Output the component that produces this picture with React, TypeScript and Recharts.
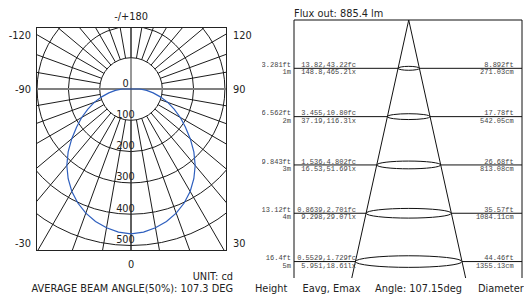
import React from 'react';
import {
  RadarChart,
  Radar,
  PolarGrid,
  PolarAngleAxis,
  PolarRadiusAxis,
  ComposedChart,
  XAxis,
  YAxis,
  ReferenceLine,
  ReferenceArea,
} from 'recharts';

// ---------- Polar luminous intensity (cd) ----------
const gammaDeg = [
  0, 5, 10, 15, 20, 25, 30, 35, 40, 45, 50, 55, 60, 65, 70, 75, 80, 85,
  90, 95, 100, 105, 110, 115, 120, 125, 130, 135, 140, 145, 150, 155, 160, 165, 170, 175,
  180, 185, 190, 195, 200, 205, 210, 215, 220, 225, 230, 235, 240, 245, 250, 255, 260, 265,
  270, 275, 280, 285, 290, 295, 300, 305, 310, 315, 320, 325, 330, 335, 340, 345, 350, 355,
];
const intensityCd = [
  463, 459, 450, 438, 422, 402, 378, 350, 319, 284, 247, 212, 182, 152, 125, 97, 72, 50,
  28, 0, 0, 0, 0, 0, 0, 0, 0, 0, 0, 0, 0, 0, 0, 0, 0, 0,
  0, 0, 0, 0, 0, 0, 0, 0, 0, 0, 0, 0, 0, 0, 0, 0, 0, 0,
  28, 50, 72, 97, 125, 152, 182, 212, 247, 284, 319, 350, 378, 402, 422, 438, 450, 459,
];
const polarData = gammaDeg.map((g, i) => ({ g, cd: intensityCd[i] }));

// ---------- Cone table ----------
const heightsM = [1, 2, 3, 4, 5];
const heightsFt = ['3.281', '6.562', '9.843', '13.12', '16.4'];
const eavgFc = ['13.82', '3.455', '1.536', '0.8639', '0.5529'];
const emaxFc = ['43.22', '10.80', '4.802', '2.701', '1.729'];
const eavgLx = ['148.8', '37.19', '16.53', '9.298', '5.951'];
const emaxLx = ['465.2', '116.3', '51.69', '29.07', '18.61'];
const diamFt = ['8.892', '17.78', '26.68', '35.57', '44.46'];
const diamCm = ['271.03', '542.05', '813.08', '1084.11', '1355.13'];
const coneData = heightsM.map((m) => ({ x: 0, m }));

// ---------- styles ----------
const SANS = '"DejaVu Sans", Verdana, sans-serif';
const MONO = '"Liberation Mono", "DejaVu Sans Mono", monospace';
const INK = '#222';
const R_UNIT = 31.3; // px per 100 cd
const OUTER_R = R_UNIT * 6;
const spokeAngles = Array.from({ length: 36 }, (_, i) => i * 10).filter((a) => a % 180 !== 0);

const CONE_SLOPE = 0.2207;
const X_MIN = -2.375;
const X_MAX = 2.345;
const Y_MAX = 5.34;

const RadiusTick = (props: any) => {
  const { x, y, payload } = props;
  if (payload.value > 500) return <g />;
  return (
    <text x={x - 5.5} y={y - 2.5} textAnchor="middle" fontFamily={SANS} fontSize={9.8} fill={INK}>
      {payload.value}
    </text>
  );
};

const EllipseShape = (props: any) => {
  const { x, y, width, height } = props;
  const rx = width / 2;
  return (
    <ellipse
      cx={x + rx}
      cy={y + height / 2}
      rx={rx}
      ry={1 + 0.09 * rx}
      fill="none"
      stroke="#111"
      strokeWidth={1}
    />
  );
};

const makeLevelLabel = (i: number) => (props: any) => {
  const vb = props.viewBox || { x: 0, y: 0, width: 0 };
  const left = vb.x;
  const right = vb.x + vb.width;
  const y = vb.y;
  const c = { fontFamily: MONO, fontSize: 7, fill: '#444' };
  return (
    <g>
      <text x={left - 3} y={y - 1.3} textAnchor="end" {...c}>{heightsFt[i]}ft</text>
      <text x={left - 3} y={y + 6} textAnchor="end" {...c}>{heightsM[i]}m</text>
      <text x={left + 62} y={y - 1.3} textAnchor="end" {...c}>{eavgFc[i]},{emaxFc[i]}fc</text>
      <text x={left + 62} y={y + 6} textAnchor="end" {...c}>{eavgLx[i]},{emaxLx[i]}lx</text>
      <text x={right - 8.3} y={y - 1.3} textAnchor="end" {...c}>{diamFt[i]}ft</text>
      <text x={right - 8.3} y={y + 6} textAnchor="end" {...c}>{diamCm[i]}cm</text>
    </g>
  );
};

const polarCommon = {
  width: 189,
  height: 222,
  cx: 94,
  cy: 61,
  outerRadius: OUTER_R,
  startAngle: -90,
  endAngle: -450,
  margin: { top: 0, right: 0, bottom: 0, left: 0 },
  data: polarData,
};

export default function App() {
  const txt = { fontFamily: SANS, fontSize: 9.8, fill: INK };
  return (
    <div style={{ position: 'absolute', left: 0, top: 0, width: 524, height: 295, background: '#fff', overflow: 'hidden' }}>
      {/* Polar diagram */}
      <div style={{ position: 'absolute', left: 37, top: 28, width: 189, height: 222, overflow: 'hidden' }}>
        <div style={{ position: 'absolute', left: 0, top: 0 }}>
          <RadarChart {...polarCommon} innerRadius={R_UNIT}>
            <PolarAngleAxis dataKey="g" type="number" domain={[0, 360]} tick={false} axisLine={false} tickLine={false} />
            <PolarRadiusAxis type="number" domain={[100, 600]} tickCount={6} allowDataOverflow tick={false} axisLine={false} />
            <PolarGrid gridType="circle" polarAngles={spokeAngles} stroke="#1c1c1c" strokeWidth={1} />
          </RadarChart>
        </div>
        <div style={{ position: 'absolute', left: 0, top: 0 }}>
          <RadarChart {...polarCommon} innerRadius={0}>
            <PolarGrid gridType="circle" polarAngles={[0, 180]} polarRadius={[0]} stroke="#808080" strokeWidth={2} />
            <PolarGrid gridType="circle" polarAngles={[90, 270]} polarRadius={[0]} stroke="#333" strokeWidth={1} />
            <PolarAngleAxis dataKey="g" type="number" domain={[0, 360]} tick={false} axisLine={false} tickLine={false} />
            <PolarRadiusAxis type="number" domain={[0, 600]} tickCount={7} angle={-90} axisLine={false} tick={RadiusTick} />
            <Radar dataKey="cd" stroke="#2e5fbe" strokeWidth={1.2} fill="none" fillOpacity={0} dot={false} isAnimationActive={false} />
          </RadarChart>
        </div>
      </div>
      <div style={{ position: 'absolute', left: 36, top: 27, width: 191, height: 224, border: '1px solid #222', boxSizing: 'border-box', pointerEvents: 'none' }} />

      {/* Cone diagram */}
      <div style={{ position: 'absolute', left: 262, top: 0 }}>
        <ComposedChart width={262} height={295} margin={{ top: 20, right: 2, bottom: 17, left: 32 }} data={coneData}>
          <XAxis type="number" dataKey="x" domain={[X_MIN, X_MAX]} allowDataOverflow hide />
          <YAxis type="number" dataKey="m" domain={[0, Y_MAX]} allowDataOverflow reversed hide />
          <ReferenceLine y={0} stroke="#111" strokeWidth={1.2} />
          <ReferenceLine x={X_MIN} stroke="#111" strokeWidth={1} />
          <ReferenceLine x={X_MAX} stroke="#111" strokeWidth={1} />
          {heightsM.map((m) => (
            <ReferenceLine key={'l' + m} segment={[{ x: X_MIN, y: m }, { x: -CONE_SLOPE * m, y: m }]} stroke="#111" strokeWidth={1} />
          ))}
          {heightsM.map((m) => (
            <ReferenceLine key={'r' + m} segment={[{ x: CONE_SLOPE * m, y: m }, { x: X_MAX, y: m }]} stroke="#111" strokeWidth={1} />
          ))}
          {heightsM.map((m) => (
            <ReferenceArea
              key={'e' + m}
              x1={-CONE_SLOPE * m}
              x2={CONE_SLOPE * m}
              y1={m - 0.05}
              y2={m + 0.05}
              shape={EllipseShape}
              ifOverflow="visible"
            />
          ))}
          <ReferenceLine segment={[{ x: 0, y: 0 }, { x: -CONE_SLOPE * Y_MAX, y: Y_MAX }]} stroke="#111" strokeWidth={1} />
          <ReferenceLine segment={[{ x: 0, y: 0 }, { x: CONE_SLOPE * Y_MAX, y: Y_MAX }]} stroke="#111" strokeWidth={1} />
          {heightsM.map((m, i) => (
            <ReferenceLine key={'t' + m} y={m} stroke="none" strokeOpacity={0} label={makeLevelLabel(i)} />
          ))}
        </ComposedChart>
      </div>

      {/* Static texts */}
      <svg width={524} height={295} style={{ position: 'absolute', left: 0, top: 0, pointerEvents: 'none' }}>
        <text x={131} y={19.5} textAnchor="middle" {...txt}>-/+180</text>
        <text x={31} y={39} textAnchor="end" {...txt}>-120</text>
        <text x={233} y={39} textAnchor="start" {...txt}>120</text>
        <text x={31} y={93} textAnchor="end" {...txt}>-90</text>
        <text x={233} y={93} textAnchor="start" {...txt}>90</text>
        <text x={31} y={246.5} textAnchor="end" {...txt}>-30</text>
        <text x={233} y={246.5} textAnchor="start" {...txt}>30</text>
        <text x={131} y={267.5} textAnchor="middle" {...txt}>0</text>
        <text x={233} y={280} textAnchor="end" {...txt}>UNIT: cd</text>
        <text x={233} y={292} textAnchor="end" {...txt}>AVERAGE BEAM ANGLE(50%): 107.3 DEG</text>
        <text x={294} y={17} textAnchor="start" {...txt}>Flux out: 885.4 lm</text>
        <text x={255} y={292} textAnchor="start" {...txt}>Height</text>
        <text x={302.5} y={292} textAnchor="start" {...txt}>Eavg, Emax</text>
        <text x={375} y={292} textAnchor="start" {...txt}>Angle: 107.15deg</text>
        <text x={478} y={292} textAnchor="start" {...txt}>Diameter</text>
      </svg>
    </div>
  );
}
